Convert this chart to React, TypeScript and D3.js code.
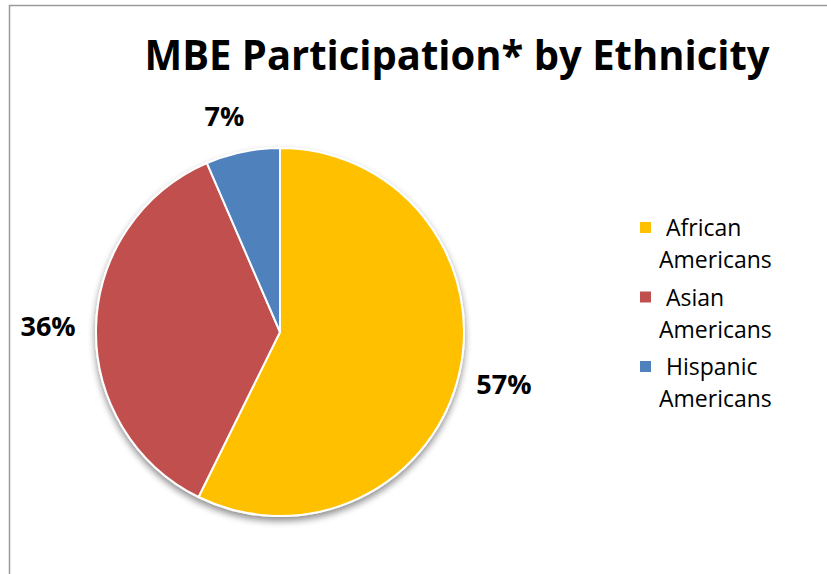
import * as d3 from "d3";

const categories = ["African Americans", "Asian Americans", "Hispanic Americans"];
const shares = [57.3, 36.2, 6.5];
const colors = ["#FFC000", "#C0504D", "#4F81BD"];
const legendFirstLine = ["African", "Asian", "Hispanic"];
const legendSecondLine = ["Americans", "Americans", "Americans"];

const width = 827;
const height = 574;

// small nudges for data labels (best-fit placement in the original)
const labelGap = [46, 48, 36];
const labelDx = [0, 0, -11];

const App = () => {
  const cx = 280;
  const cy = 332;
  const radius = 184;

  const slices = d3
    .pie<number>()
    .sort(null)
    .value((d) => d)(shares);

  const arc = d3.arc<d3.PieArcDatum<number>>().innerRadius(0).outerRadius(radius);

  const font = "'Open Sans', 'DejaVu Sans', sans-serif";

  return (
    <div style={{ position: "fixed", left: 0, top: 0 }}>
      <svg width={width} height={height} style={{ display: "block", background: "#fff" }}>
        <defs>
          <filter id="shadow" x="-20%" y="-20%" width="140%" height="140%">
            <feGaussianBlur in="SourceAlpha" stdDeviation="3.5" />
            <feOffset dx="0" dy="4" result="blur" />
            <feComponentTransfer>
              <feFuncA type="linear" slope="0.45" />
            </feComponentTransfer>
            <feMerge>
              <feMergeNode />
              <feMergeNode in="SourceGraphic" />
            </feMerge>
          </filter>
        </defs>

        {/* chart frame */}
        <rect x={9.5} y={5.5} width={width} height={height} fill="none" stroke="#9a9a9a" strokeWidth={1.5} />

        <text
          x={457}
          y={70}
          textAnchor="middle"
          fontFamily={font}
          fontWeight="bold"
          fontSize={41}
          textLength={625}
          lengthAdjust="spacingAndGlyphs"
          fill="#000"
        >
          MBE Participation* by Ethnicity
        </text>

        <g transform={`translate(${cx},${cy})`}>
          <g filter="url(#shadow)">
            {slices.map((s, i) => (
              <path key={categories[i]} d={arc(s) ?? ""} fill={colors[i]} stroke="#fff" strokeWidth={2} strokeLinejoin="round" />
            ))}
          </g>
          {slices.map((s, i) => {
            const r = radius + labelGap[i];
            const [x, y] = d3.arc<d3.PieArcDatum<number>>().innerRadius(r).outerRadius(r).centroid(s);
            return (
              <text
                key={"l" + i}
                x={x + labelDx[i]}
                y={y}
                dy="0.36em"
                textAnchor="middle"
                fontFamily={font}
                fontWeight="bold"
                fontSize={27}
                fill="#000"
              >
                {Math.round(s.data)}%
              </text>
            );
          })}
        </g>

        <g fontFamily={font} fontSize={23} fill="#000">
          {categories.map((c, i) => {
            const base = 236 + i * 69.5;
            return (
              <g key={c}>
                <rect x={640} y={base - 14} width={11} height={11} fill={colors[i]} />
                <text x={666} y={base}>{legendFirstLine[i]}</text>
                <text x={659} y={base + 32}>{legendSecondLine[i]}</text>
              </g>
            );
          })}
        </g>
      </svg>
    </div>
  );
};

export default App;
